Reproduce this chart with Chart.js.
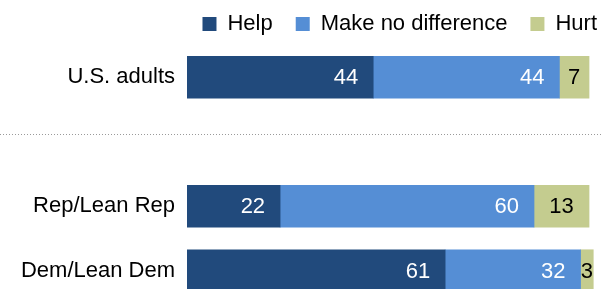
<!DOCTYPE html>
<html>
<head>
<meta charset="utf-8">
<script src="https://cdn.jsdelivr.net/npm/chart.js@4/dist/chart.umd.min.js"></script>
<style>
  html, body { margin: 0; padding: 0; background: #fff; overflow: hidden; }
  canvas { display: block; }
</style>
</head>
<body>
<canvas id="chart" width="603" height="303"></canvas>
<script>
// categories (the blank one makes the gap under the dotted line)
const categories = ["U.S. adults", "", "Rep/Lean Rep", "Dem/Lean Dem"];
const seriesNames = ["Help", "Make no difference", "Hurt"];
const help = [44, null, 22, 61];
const noDifference = [44, null, 60, 32];
const hurt = [7, null, 13, 3];

const colors = ["#214a7c", "#558ed5", "#c4cc8f"];
const font = "'Liberation Sans', Arial, sans-serif";

// labels inside the bars
const barLabels = {
  id: "barLabels",
  afterDatasetsDraw(chart) {
    const ctx = chart.ctx;
    ctx.save();
    ctx.font = "22px " + font;
    ctx.textBaseline = "middle";
    chart.data.datasets.forEach((ds, i) => {
      const meta = chart.getDatasetMeta(i);
      meta.data.forEach((bar, j) => {
        const v = ds.data[j];
        if (v == null) return;
        if (i === 2) {
          ctx.textAlign = "center";
          ctx.fillStyle = "#000";
          ctx.fillText(v, (bar.x + bar.base) / 2, bar.y + 1);
        } else {
          ctx.textAlign = "right";
          ctx.fillStyle = "#fff";
          ctx.fillText(v, bar.x - 15, bar.y + 1);
        }
      });
    });
    ctx.restore();
  }
};

// dotted separator between the total and the party rows
const separator = {
  id: "separator",
  beforeDatasetsDraw(chart) {
    const ctx = chart.ctx;
    const y = Math.round(chart.scales.y.getPixelForValue(0.875)) + 0.5;
    ctx.save();
    ctx.strokeStyle = "#9a9a9a";
    ctx.lineWidth = 1;
    ctx.setLineDash([1, 2]);
    ctx.beginPath();
    ctx.moveTo(0, y);
    ctx.lineTo(chart.width, y);
    ctx.stroke();
    ctx.restore();
  }
};

document.addEventListener("DOMContentLoaded", () => {
  const ctx = document.getElementById("chart").getContext("2d");
  new Chart(ctx, {
    type: "bar",
    data: {
      labels: categories,
      datasets: [help, noDifference, hurt].map((d, i) => ({
        label: seriesNames[i],
        data: d,
        backgroundColor: colors[i],
        borderWidth: 0,
        barThickness: 42,
      })),
    },
    options: {
      indexAxis: "y",
      responsive: false,
      animation: false,
      layout: { padding: { top: -10, right: -17, left: 0, bottom: 0 } },
      plugins: {
        legend: {
          position: "top",
          align: "end",
          labels: {
            boxWidth: 14,
            boxHeight: 14,
            padding: 23,
            color: "#000",
            font: { family: font, size: 22 },
          },
        },
        tooltip: { enabled: false },
      },
      scales: {
        x: {
          stacked: true,
          min: 0,
          max: 98.3,
          display: false,
        },
        y: {
          stacked: true,
          grid: { display: false, drawTicks: false },
          border: { display: false },
          ticks: {
            padding: 12,
            color: "#000",
            font: { family: font, size: 22 },
          },
          afterFit(scale) {
            scale.width = 187;
            scale.paddingTop = 0;
            scale.paddingBottom = 0;
          },
        },
      },
    },
    plugins: [separator, barLabels],
  });
});
</script>
</body>
</html>
